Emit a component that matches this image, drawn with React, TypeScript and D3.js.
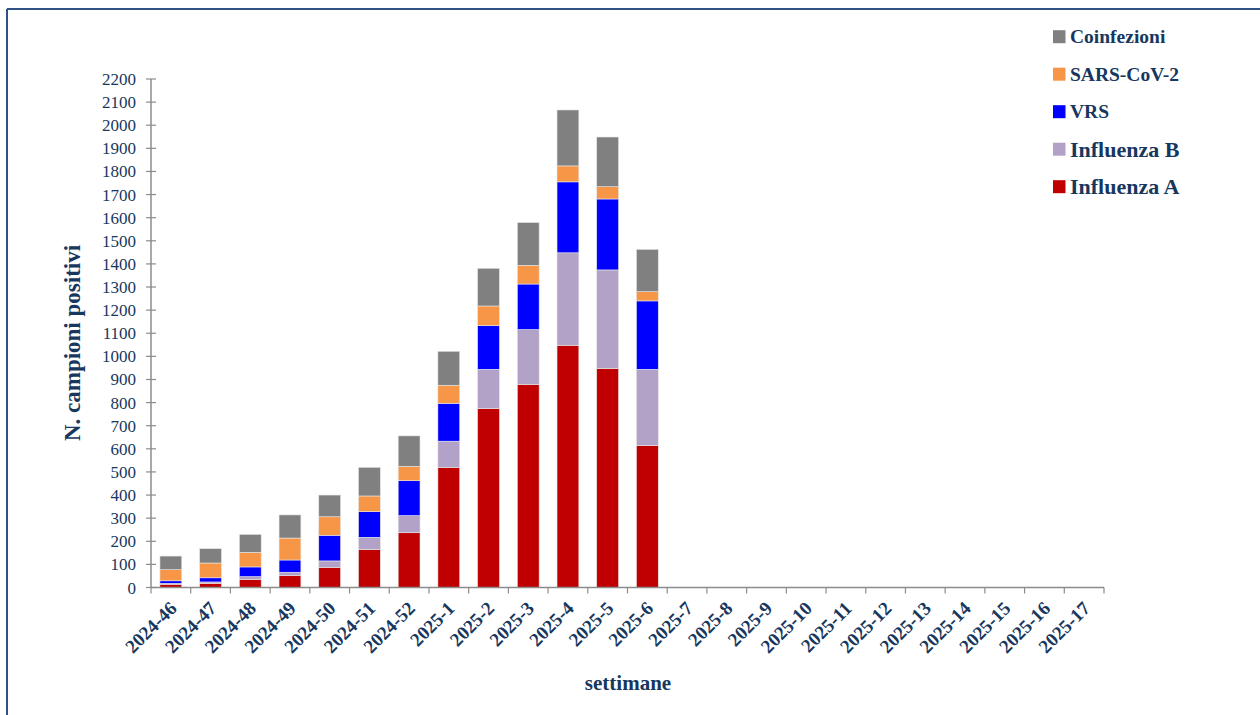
import * as d3 from 'd3'

// weeks on the x axis
const weeks = [
  '2024-46', '2024-47', '2024-48', '2024-49', '2024-50', '2024-51', '2024-52',
  '2025-1', '2025-2', '2025-3', '2025-4', '2025-5', '2025-6', '2025-7',
  '2025-8', '2025-9', '2025-10', '2025-11', '2025-12', '2025-13', '2025-14',
  '2025-15', '2025-16', '2025-17',
]

// positive samples per week, by virus
const influenzaA = [14, 18, 35, 51, 87, 165, 237, 520, 774, 879, 1048, 948, 614, 0, 0, 0, 0, 0, 0, 0, 0, 0, 0, 0]
const influenzaB = [4, 6, 12, 15, 28, 52, 74, 113, 170, 237, 400, 426, 330, 0, 0, 0, 0, 0, 0, 0, 0, 0, 0, 0]
const vrs = [11, 18, 42, 53, 111, 111, 151, 164, 189, 197, 307, 307, 296, 0, 0, 0, 0, 0, 0, 0, 0, 0, 0, 0]
const sarsCov2 = [48, 64, 63, 95, 80, 68, 62, 78, 85, 81, 69, 53, 40, 0, 0, 0, 0, 0, 0, 0, 0, 0, 0, 0]
const coinfezioni = [59, 62, 78, 100, 94, 124, 132, 147, 163, 185, 242, 215, 183, 0, 0, 0, 0, 0, 0, 0, 0, 0, 0, 0]

const seriesKeys = ['Influenza A', 'Influenza B', 'VRS', 'SARS-CoV-2', 'Coinfezioni']
const seriesColors = ['#C00000', '#B3A2C7', '#0000FF', '#F79646', '#808080']
const yTicks = d3.range(0, 2201, 100)

const textColor = '#17375E'
const axisColor = '#8C8C8C'
const font = '"Liberation Serif", "Times New Roman", serif'

export default function App() {
  const width = 1260, height = 715
  const x0 = 151, x1 = 1104, yTop = 79, yBase = 587.5

  const rows = weeks.map((w, i) => ({
    week: w,
    'Influenza A': influenzaA[i],
    'Influenza B': influenzaB[i],
    'VRS': vrs[i],
    'SARS-CoV-2': sarsCov2[i],
    'Coinfezioni': coinfezioni[i],
  }))

  const x = d3.scaleBand().domain(weeks).range([x0, x1]).paddingInner(0.45).paddingOuter(0.225)
  const band = d3.scaleBand().domain(weeks).range([x0, x1])
  const y = d3.scaleLinear().domain([0, 2200]).range([yBase, yTop])
  const color = d3.scaleOrdinal<string, string>().domain(seriesKeys).range(seriesColors)

  //@ts-ignore
  const stacked = d3.stack().keys(seriesKeys)(rows)

  // legend is drawn top to bottom in reverse stacking order
  const legendKeys = seriesKeys.slice().reverse()
  const legendSizes = [19.5, 19.5, 19.5, 22, 22]

  return (
    <div style={{ position: 'absolute', left: 0, top: 0 }}>
      <svg width={width} height={height} style={{ display: 'block', background: '#fff' }}>
        {/* frame */}
        <line x1={7} x2={width} y1={9} y2={9} stroke="#2E5286" strokeWidth={2} />
        <line x1={7} x2={7} y1={9} y2={height} stroke="#2E5286" strokeWidth={2} />

        {/* bars */}
        {stacked.map((s, si) => (
          <g key={seriesKeys[si]} fill={color(seriesKeys[si])}>
            {s.map((d, i) =>
              d[1] - d[0] > 0 ? (
                <rect
                  key={i}
                  x={x(weeks[i])}
                  y={y(d[1])}
                  width={x.bandwidth()}
                  height={y(d[0]) - y(d[1])}
                  stroke="#e6e6e6"
                  strokeWidth={0.6}
                />
              ) : null
            )}
          </g>
        ))}

        {/* y axis */}
        <line x1={x0} x2={x0} y1={yTop} y2={yBase} stroke={axisColor} strokeWidth={1.5} />
        {yTicks.map(t => (
          <g key={t}>
            <line x1={x0 - 5} x2={x0 + 5} y1={y(t)} y2={y(t)} stroke={axisColor} strokeWidth={1.2} />
            <text x={x0 - 15} y={y(t) + 6} textAnchor="end" fontFamily={font} fontSize={17} fill={textColor}>
              {t}
            </text>
          </g>
        ))}

        {/* x axis */}
        <line x1={x0} x2={x1} y1={yBase} y2={yBase} stroke={axisColor} strokeWidth={1.5} />
        {weeks.concat(['__end']).map((w, i) => {
          const px = i < weeks.length ? band(w)! : x1
          return <line key={w} x1={px} x2={px} y1={yBase} y2={yBase + 6} stroke={axisColor} strokeWidth={1.2} />
        })}
        {weeks.map(w => {
          const cx = band(w)! + band.bandwidth() / 2
          return (
            <text
              key={w}
              transform={`translate(${cx + 7},${yBase + 22}) rotate(-45)`}
              textAnchor="end"
              fontFamily={font}
              fontWeight="bold"
              fontSize={19}
              fill={textColor}
            >
              {w}
            </text>
          )
        })}

        {/* axis titles */}
        <text
          transform={`translate(80,343) rotate(-90)`}
          textAnchor="middle"
          fontFamily={font}
          fontWeight="bold"
          fontSize={23}
          fill={textColor}
        >
          N. campioni positivi
        </text>
        <text x={628} y={690} textAnchor="middle" fontFamily={font} fontWeight="bold" fontSize={21} fill={textColor}>
          settimane
        </text>

        {/* legend */}
        {legendKeys.map((k, i) => {
          const cy = 36.7 + i * 37.5
          return (
            <g key={k}>
              <rect x={1053} y={cy - 6.5} width={12.5} height={13} fill={color(k)} />
              <text
                x={1070}
                y={cy + legendSizes[i] * 0.34}
                fontFamily={font}
                fontWeight="bold"
                fontSize={legendSizes[i]}
                fill={textColor}
              >
                {k}
              </text>
            </g>
          )
        })}
      </svg>
    </div>
  )
}
